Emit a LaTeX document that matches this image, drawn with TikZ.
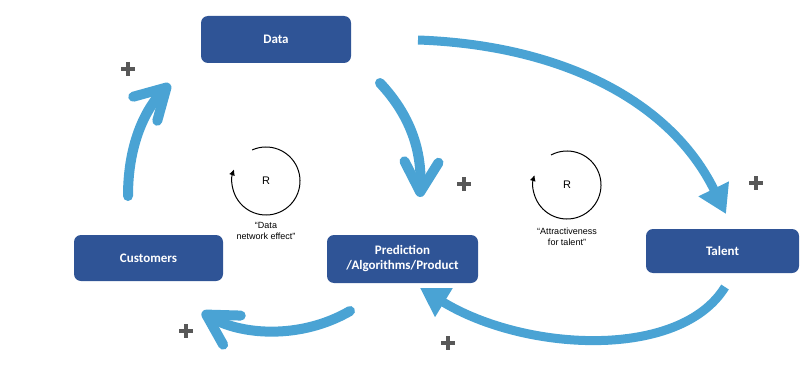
\documentclass[tikz,border=0pt]{standalone}
\usepackage{fontspec}
\setmainfont{Carlito}
\newfontfamily\helv{Liberation Sans}
\usetikzlibrary{arrows.meta}
\definecolor{boxblue}{RGB}{47,84,150}
\definecolor{arrblue}{RGB}{74,163,212}
\definecolor{plusgray}{RGB}{88,88,88}
\begin{document}
\begin{tikzpicture}[x=1pt,y=-1pt,
  box/.style={fill=boxblue, rounded corners=7pt, text=white,
    font=\bfseries\fontsize{13}{15}\selectfont, align=center, inner sep=0pt},
  flow/.style={draw=arrblue, line width=10pt},
  chevtip/.style={-{Straight Barb[length=30pt,width=34pt,round]}},
  tritip/.style={-{Triangle[length=28pt,width=32pt]}},
  loopline/.style={draw=black, line width=1pt, -{Latex[length=6pt,width=6pt]}},
  looptext/.style={font=\helv\fontsize{9}{11.5}\selectfont, align=center, inner sep=0pt},
  rtext/.style={font=\helv\fontsize{11}{13}\selectfont, inner sep=0pt},
  plussign/.pic={\draw[plusgray, line width=4.5pt] (-7,0) -- (7,0) (0,-7) -- (0,7);}
]
\useasboundingbox (0,0) rectangle (800,369);

% boxes
\node[box, minimum width=150pt, minimum height=47pt] (data) at (276,39.5) {Data};
\node[box, minimum width=149pt, minimum height=46pt] (cust) at (148.5,258) {Customers};
\node[box, minimum width=151pt, minimum height=48pt] (pred) at (402.5,259) {Prediction\\/Algorithms/Product};
\node[box, minimum width=153pt, minimum height=44pt] (talent) at (722.5,251) {Talent};

% connector end coordinates
\coordinate (c1s) at (128,196);
\coordinate (c1e) at (170,84);
\coordinate (c2s) at (380,83);
\coordinate (c2e) at (420,197);
\coordinate (c3s) at (350,311);
\coordinate (c3e) at (202,312);
\coordinate (c4s) at (418,40);
\coordinate (c4e) at (726,214);
\coordinate (c5s) at (725,287);
\coordinate (c5e) at (420,288);

% flows
\draw[flow, chevtip, line cap=round] (c1s) .. controls (128,140) and (148,106) .. (c1e);
\draw[flow, chevtip, line cap=round] (c2s) .. controls (410,115) and (422,150) .. (c2e);
\draw[flow, chevtip, line cap=round] (c3s) .. controls (300,340) and (240,335) .. (c3e);
\draw[flow, line width=9pt, tritip] (c4s) .. controls (560,45) and (670,100) .. (c4e);
\draw[flow, line width=9pt, tritip] (c5s) .. controls (680,360) and (525,352) .. (c5e);

% plus signs
\pic at (128,69) {plussign};
\pic at (464,184) {plussign};
\pic at (756,183) {plussign};
\pic at (186,331) {plussign};
\pic at (448,343) {plussign};

% loops
\coordinate (l1) at (266,181);
\coordinate (l2) at (567,185);
\draw[loopline] ([shift={(-114:34)}]l1) arc[start angle=-114, end angle=200, radius=34];
\node[rtext] (r1) at (l1) {R};
\node[looptext] (t1) at (266,231) {“Data\\network effect”};
\draw[loopline] ([shift={(-118:34)}]l2) arc[start angle=-118, end angle=197, radius=34];
\node[rtext] (r2) at (l2) {R};
\node[looptext] (t2) at (567,237) {“Attractiveness\\for talent”};
\end{tikzpicture}
\end{document}
